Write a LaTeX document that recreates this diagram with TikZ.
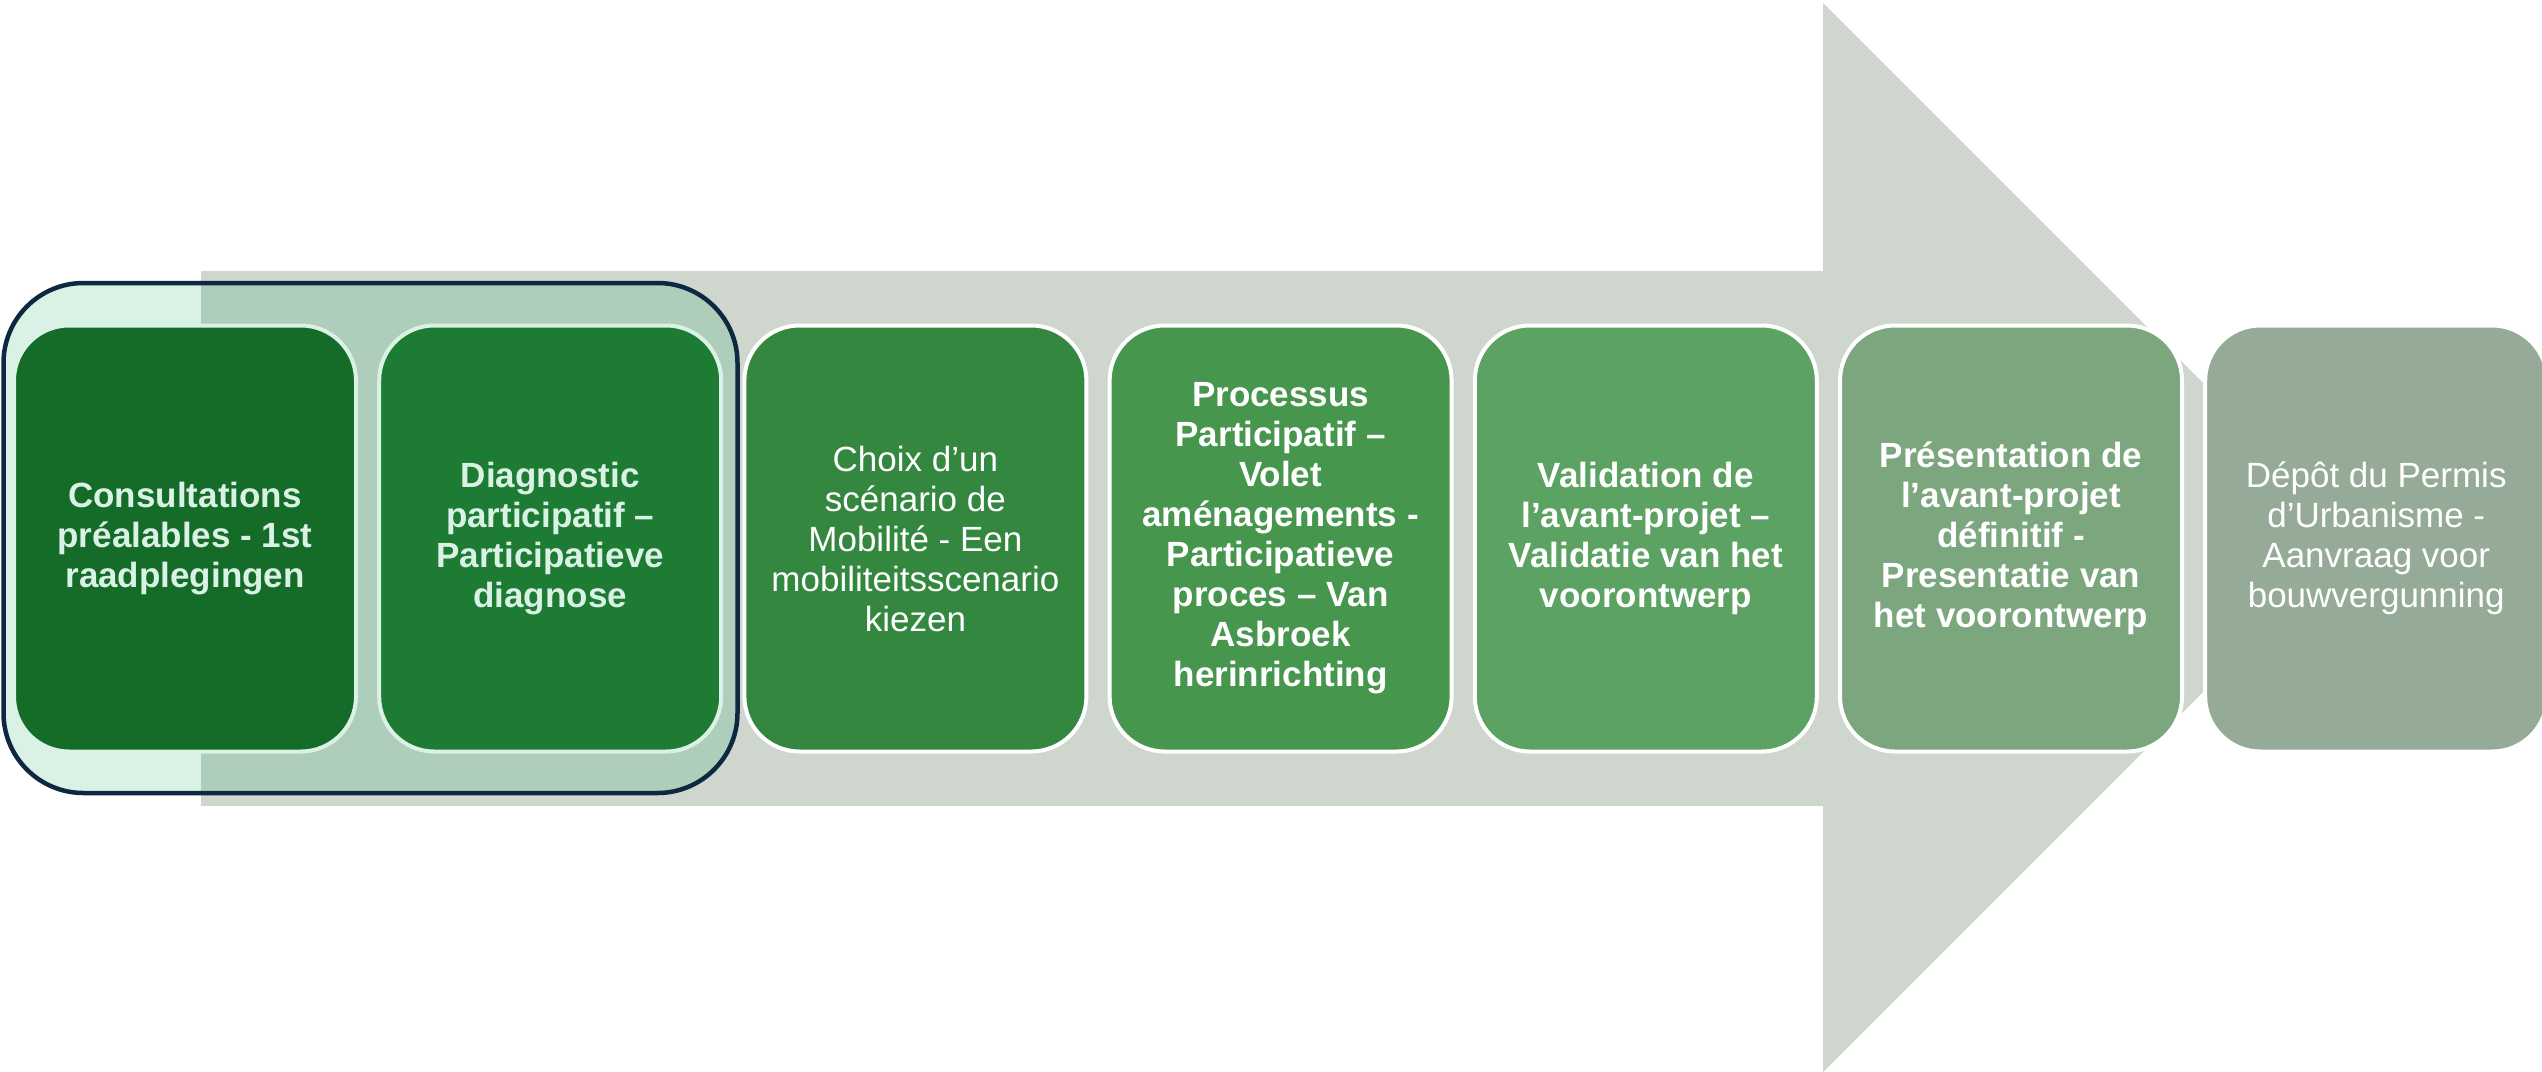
\documentclass[tikz,border=0pt]{standalone}
\usepackage{fontspec}
\setmainfont{Liberation Sans}
\definecolor{arrowgray}{HTML}{CED6CD}
\definecolor{mint}{HTML}{D9F2E5}
\definecolor{overlapc}{HTML}{AECDBA}
\definecolor{navy}{HTML}{0E2841}
\definecolor{cA}{HTML}{156C28}
\definecolor{cB}{HTML}{1E7B33}
\definecolor{cC}{HTML}{33873F}
\definecolor{cD}{HTML}{46964E}
\definecolor{cE}{HTML}{5CA262}
\definecolor{cF}{HTML}{7BA67E}
\definecolor{cG}{HTML}{96AB97}
\begin{document}
\begin{tikzpicture}[x=1pt,y=-1pt,
  stepbox/.style={rectangle, rounded corners=55pt, minimum width=342pt,
    minimum height=426pt, line width=4pt, draw=white, align=center,
    text=white, inner sep=0pt, font=\fontsize{35}{40}\selectfont},
  boldbox/.style={stepbox, font=\fontsize{35}{40}\selectfont\bfseries},
  grpbox/.style={rectangle, rounded corners=80pt, draw=navy, line width=4.5pt,
    minimum width=734pt, minimum height=510pt, inner sep=0pt}]
\useasboundingbox (0,0) rectangle (2542,1071);
\clip (0,0) rectangle (2542,1071);
% big arrow
\fill[arrowgray] (201,271) -- (1823,271) -- (1823,3) -- (2357.5,537.5)
  -- (1823,1072) -- (1823,806) -- (201,806) -- cycle;
% group background
\fill[mint, rounded corners=80pt] (3.5,283) rectangle (737.5,793);
\begin{scope}
  \clip[rounded corners=80pt] (3.5,283) rectangle (737.5,793);
  \fill[overlapc] (201,271) rectangle (1823,806);
\end{scope}
\node[grpbox] (grp) at (370.5,538) {};
% steps
\node[boldbox, fill=cA, draw=mint, text=mint] (b1) at (185,538.5)
  {Consultations\\préalables - 1st\\raadplegingen};
\node[boldbox, fill=cB, draw=mint, text=mint] (b2) at (550.2,538.5)
  {Diagnostic\\participatif –\\Participatieve\\diagnose};
\node[stepbox, fill=cC] (b3) at (915.4,538.5)
  {Choix d’un\\scénario de\\Mobilité - Een\\mobiliteitsscenario\\kiezen};
\node[boldbox, fill=cD] (b4) at (1280.6,538.5)
  {Processus\\Participatif –\\Volet\\aménagements -\\Participatieve\\proces – Van\\Asbroek\\herinrichting};
\node[boldbox, fill=cE] (b5) at (1645.8,538.5)
  {Validation de\\l’avant-projet –\\Validatie van het\\voorontwerp};
\node[boldbox, fill=cF] (b6) at (2011,538.5)
  {Présentation de\\l’avant-projet\\définitif -\\Presentatie van\\het voorontwerp};
\node[stepbox, fill=cG] (b7) at (2376.2,538.5)
  {Dépôt du Permis\\d’Urbanisme -\\Aanvraag voor\\bouwvergunning};
\end{tikzpicture}
\end{document}
